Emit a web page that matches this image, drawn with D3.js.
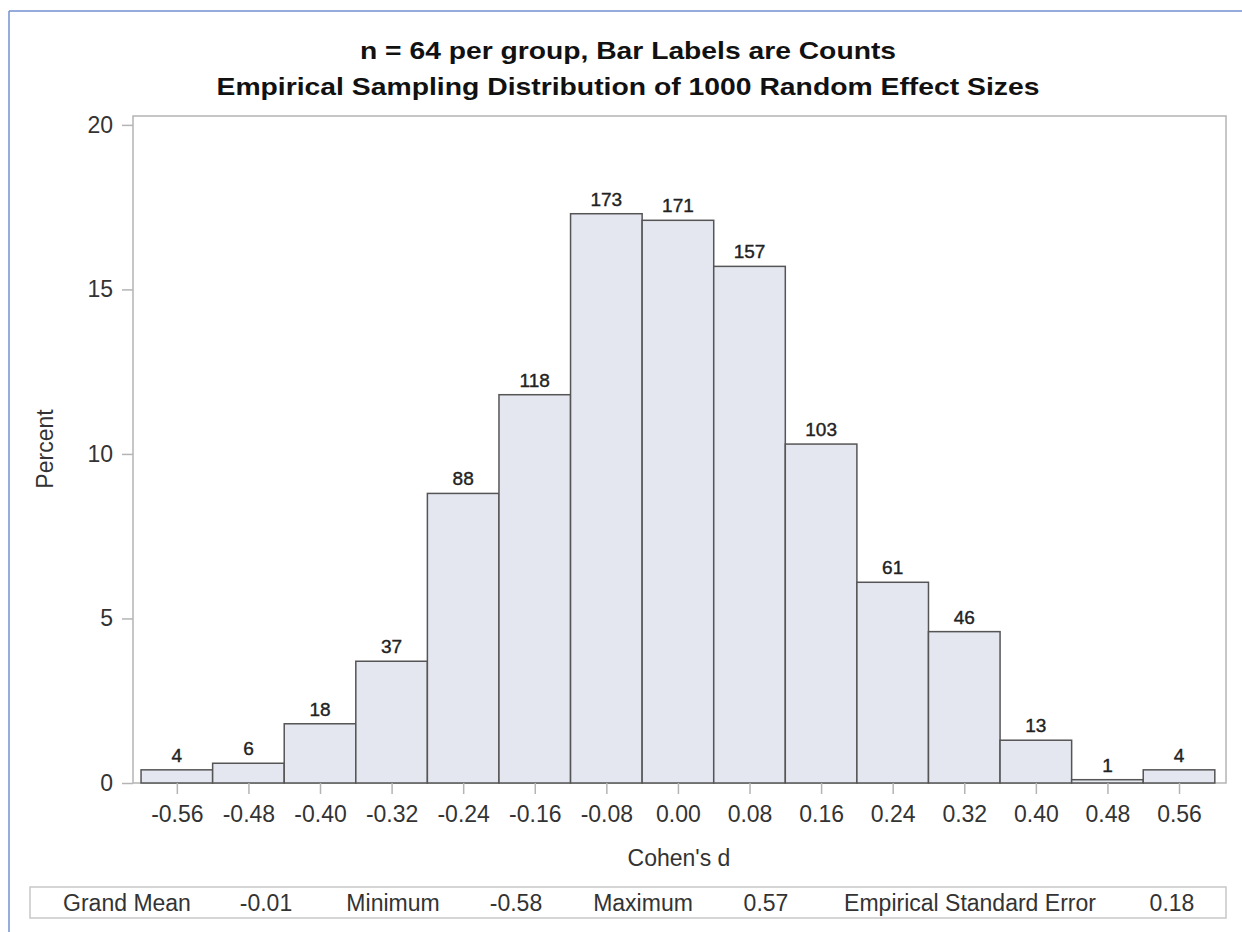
<!DOCTYPE html>
<html>
<head>
<meta charset="utf-8">
<script src="https://cdn.jsdelivr.net/npm/d3@7"></script>
<style>
  html, body { margin: 0; padding: 0; background: #fff; }
  svg { display: block; }
  text { font-family: "Liberation Sans", Arial, sans-serif; fill: #333; }
</style>
</head>
<body>
<svg id="chart" width="1242" height="932"></svg>
<script>
// Histogram bins (midpoints of Cohen's d) and counts out of 1000 replications
const binMids = [-0.56, -0.48, -0.40, -0.32, -0.24, -0.16, -0.08, 0.00, 0.08, 0.16, 0.24, 0.32, 0.40, 0.48, 0.56];
const counts  = [4, 6, 18, 37, 88, 118, 173, 171, 157, 103, 61, 46, 13, 1, 4];
const totalN = 1000;
const binWidth = 0.08;
const yTicks = [0, 5, 10, 15, 20];
const titleLines = ["n = 64 per group, Bar Labels are Counts",
                    "Empirical Sampling Distribution of 1000 Random Effect Sizes"];
const statLabels = ["Grand Mean", "Minimum", "Maximum", "Empirical Standard Error"];
const statValues = ["-0.01", "-0.58", "0.57", "0.18"];

const svg = d3.select("#chart");

// outer frame (top and left edges)
svg.append("line").attr("x1", 9).attr("x2", 1242).attr("y1", 11).attr("y2", 11)
  .attr("stroke", "#7391d0").attr("stroke-width", 1.5);
svg.append("line").attr("x1", 9).attr("x2", 9).attr("y1", 11).attr("y2", 932)
  .attr("stroke", "#7391d0").attr("stroke-width", 1.5);

const plot = { left: 133, right: 1226, top: 116, bottom: 783 };

const x = d3.scaleLinear().domain([-0.609, 0.6125]).range([plot.left, plot.right]);
const y = d3.scaleLinear().domain([0, 20.27]).range([plot.bottom, plot.top]);

// hyphen-minus for negative tick values
const fmt2 = v => d3.format(".2f")(v).replace("\u2212", "-");

// titles
svg.selectAll("text.title").data(titleLines).join("text")
  .attr("class", "title")
  .attr("x", 628).attr("y", (d, i) => 59 + i * 36)
  .attr("text-anchor", "middle")
  .style("font-weight", "bold")
  .style("font-size", "24px")
  .style("fill", "#111")
  .attr("textLength", (d, i) => i === 0 ? 536 : 823)
  .attr("lengthAdjust", "spacingAndGlyphs")
  .text(d => d);

// plot frame
svg.append("rect")
  .attr("x", plot.left).attr("y", plot.top)
  .attr("width", plot.right - plot.left).attr("height", plot.bottom - plot.top)
  .attr("fill", "none").attr("stroke", "#b4b4b4").attr("stroke-width", 1.5);

// bars
const bars = binMids.map((m, i) => ({ mid: m, count: counts[i], pct: counts[i] / totalN * 100 }));
svg.append("g").selectAll("rect").data(bars).join("rect")
  .attr("x", d => x(d.mid - binWidth / 2))
  .attr("width", d => x(d.mid + binWidth / 2) - x(d.mid - binWidth / 2))
  .attr("y", d => y(d.pct))
  .attr("height", d => y(0) - y(d.pct))
  .attr("fill", "#e4e7ef")
  .attr("stroke", "#555")
  .attr("stroke-width", 1.5);

// count labels above bars
svg.append("g").selectAll("text").data(bars).join("text")
  .attr("x", d => x(d.mid))
  .attr("y", d => y(d.pct) - 8)
  .attr("text-anchor", "middle")
  .style("font-size", "19px")
  .style("fill", "#222")
  .style("stroke", "#222")
  .style("stroke-width", "0.4px")
  .text(d => d.count);

// y axis
const yAxis = svg.append("g")
  .attr("transform", `translate(${plot.left},0)`)
  .call(d3.axisLeft(y).tickValues(yTicks).tickSize(11).tickPadding(9).tickFormat(d3.format("d")));
yAxis.select(".domain").remove();
yAxis.selectAll(".tick line").attr("stroke", "#b4b4b4").attr("stroke-width", 1.5);
yAxis.selectAll(".tick text").style("font-size", "23px").style("fill", "#333")
  .style("font-family", "'Liberation Sans', Arial, sans-serif");

// x axis
const xAxis = svg.append("g")
  .attr("transform", `translate(0,${plot.bottom})`)
  .call(d3.axisBottom(x).tickValues(binMids).tickSize(11).tickPadding(12).tickFormat(fmt2));
xAxis.select(".domain").remove();
xAxis.selectAll(".tick line").attr("stroke", "#b4b4b4").attr("stroke-width", 1.5);
xAxis.selectAll(".tick text").style("font-size", "23px").style("fill", "#333")
  .style("font-family", "'Liberation Sans', Arial, sans-serif");

// axis titles
svg.append("text")
  .attr("x", 679).attr("y", 866)
  .attr("text-anchor", "middle")
  .style("font-size", "23px")
  .text("Cohen's d");
svg.append("text")
  .attr("transform", `translate(53,449) rotate(-90)`)
  .attr("text-anchor", "middle")
  .style("font-size", "23px")
  .text("Percent");

// summary statistics strip
svg.append("rect")
  .attr("x", 30).attr("y", 887).attr("width", 1196).attr("height", 31)
  .attr("fill", "none").attr("stroke", "#c8c8c8").attr("stroke-width", 1.5);
const labelCenters = [127, 393, 643, 970];
const valueCenters = [266, 516, 766, 1172];
const stats = svg.append("g").style("font-size", "23px");
stats.selectAll("text.lab").data(statLabels).join("text")
  .attr("class", "lab")
  .attr("x", (d, i) => labelCenters[i]).attr("y", 911)
  .attr("text-anchor", "middle")
  .text(d => d);
stats.selectAll("text.val").data(statValues).join("text")
  .attr("class", "val")
  .attr("x", (d, i) => valueCenters[i]).attr("y", 911)
  .attr("text-anchor", "middle")
  .text(d => d);
</script>
</body>
</html>
